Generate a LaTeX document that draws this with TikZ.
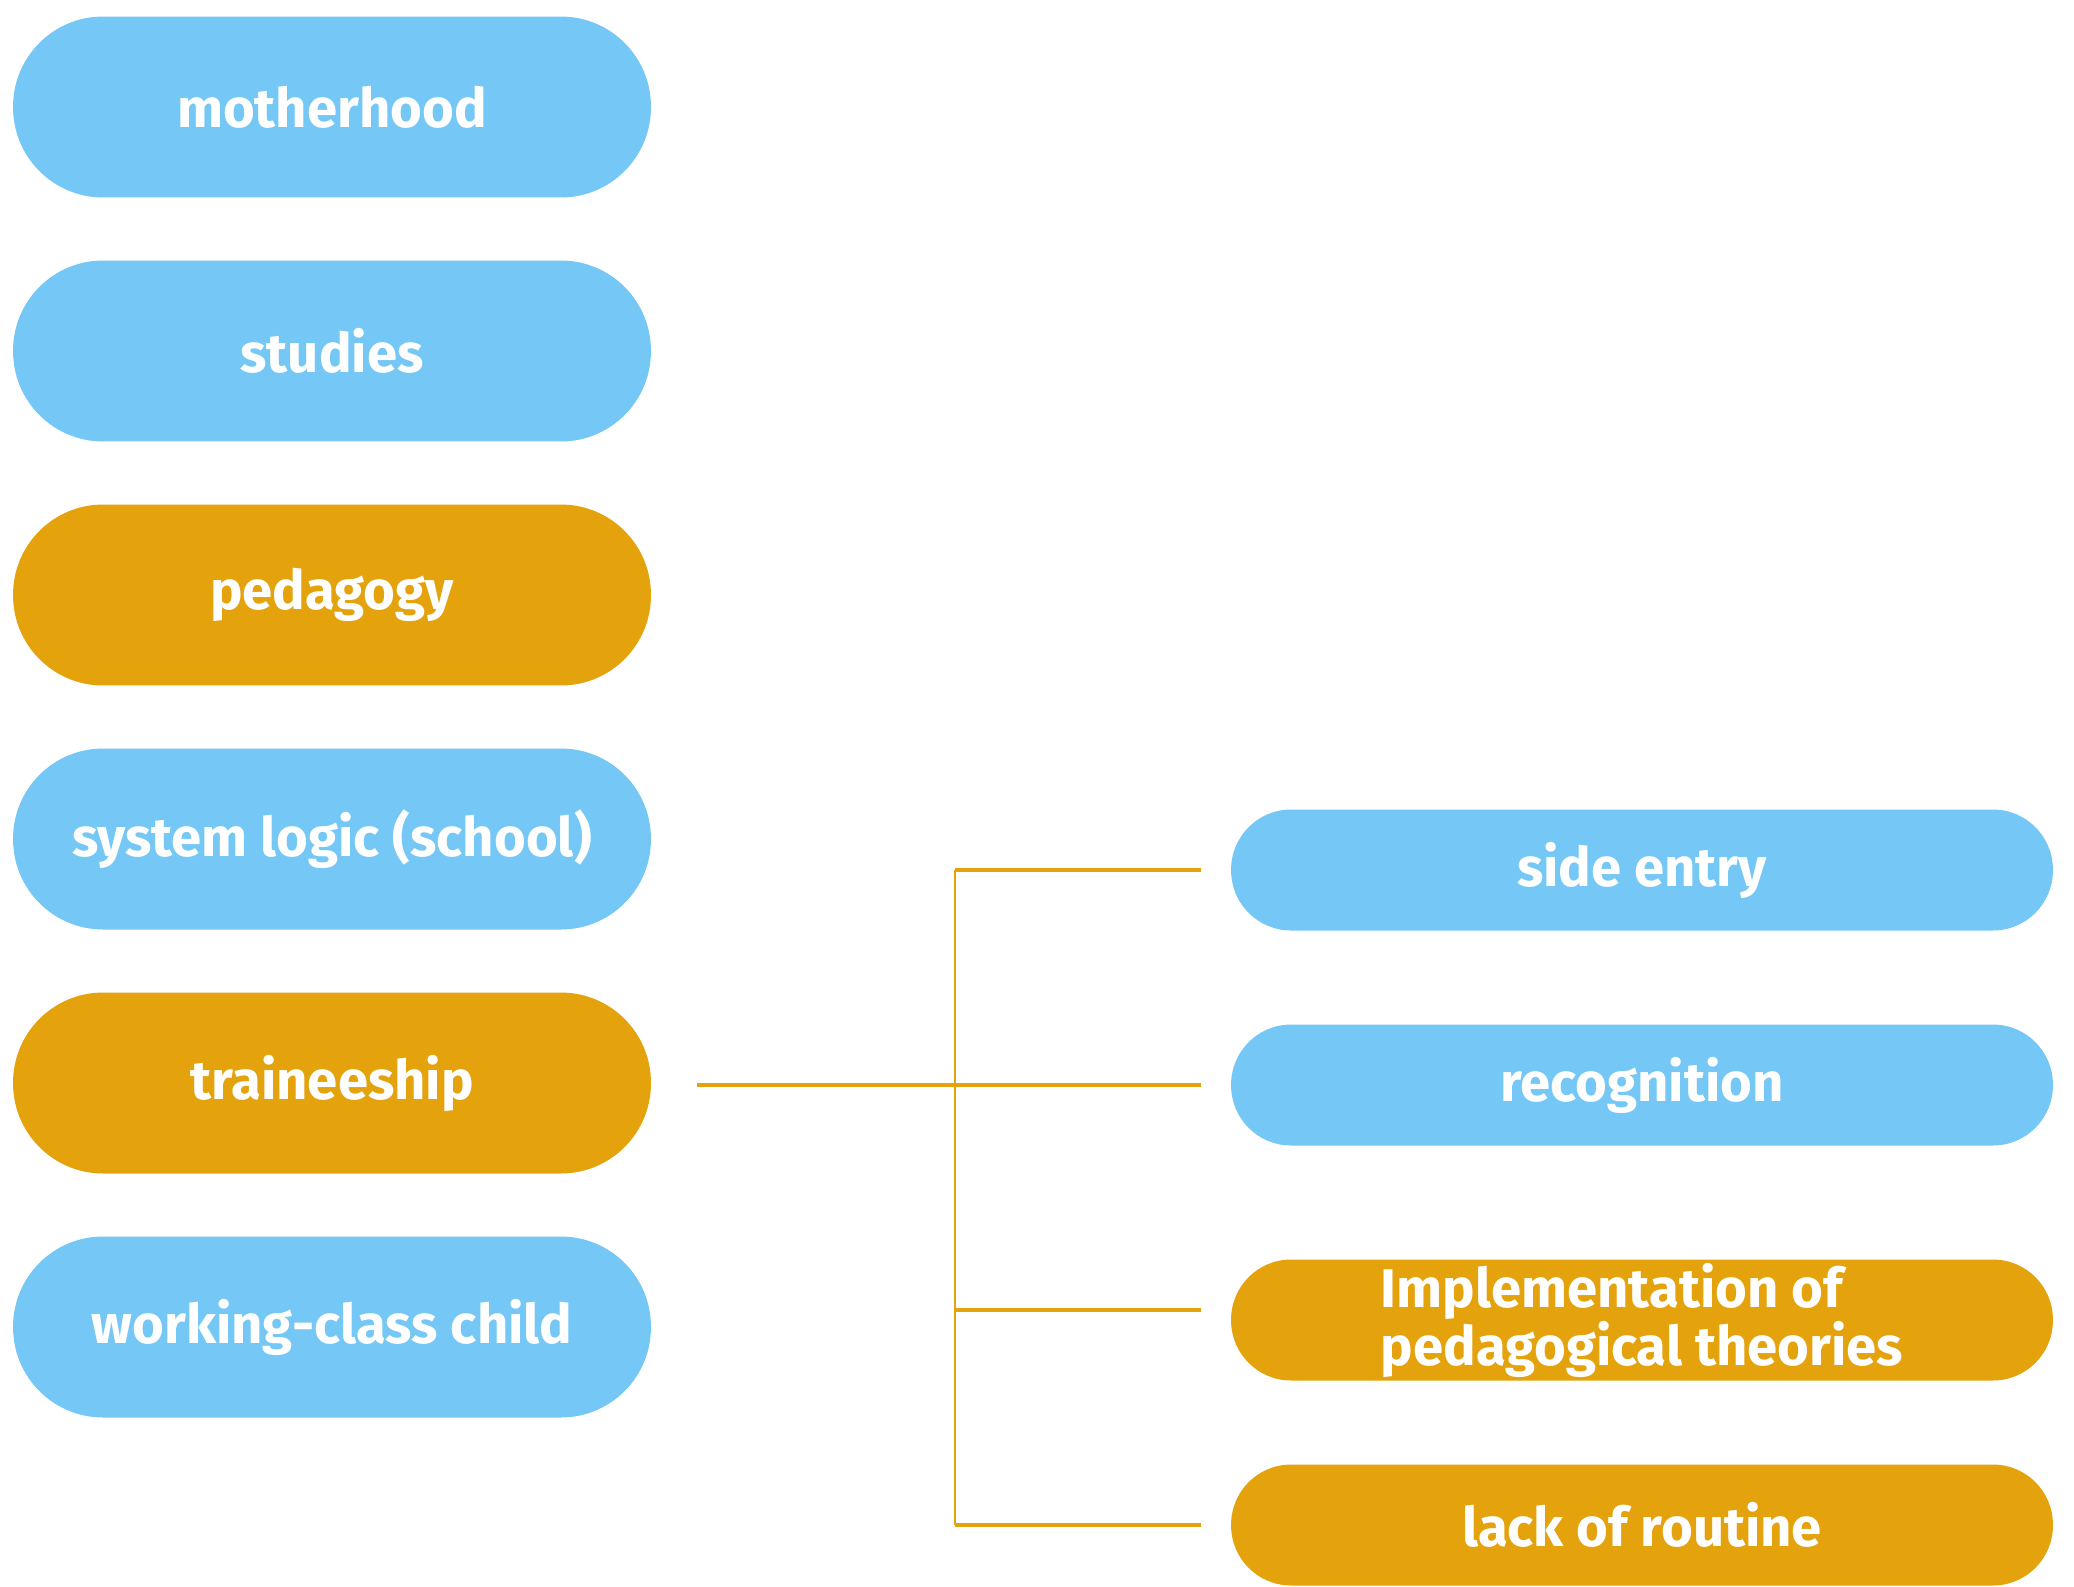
\documentclass[tikz,border=0pt]{standalone}
\usepackage{fontspec}
\setmainfont{Fira Sans}
\usepackage{tikz}
\definecolor{skyblue}{RGB}{117,199,245}
\definecolor{amber}{RGB}{228,162,12}

\begin{document}
\begin{tikzpicture}[x=0.02cm,y=-0.02cm,
  pill/.style={rectangle,inner sep=0pt,text=white,font=\fontsize{31}{31}\selectfont\bfseries},
  leftpill/.style={pill,minimum width=12.76cm,minimum height=3.62cm,rounded corners=1.8cm},
  rightpill/.style={pill,minimum width=16.44cm,minimum height=2.42cm,rounded corners=1.2cm},
  link/.style={draw=amber,line width=2.2pt},
  trunk/.style={draw=amber,line width=1.5pt}]
\useasboundingbox (0,0) rectangle (2074,1586);
\node[leftpill,fill=skyblue] (mother) at (332,107) {motherhood};
\node[leftpill,fill=skyblue] (studies) at (332,351) {studies};
\node[leftpill,fill=amber] (pedagogy) at (332,595) {pedagogy};
\node[leftpill,fill=skyblue] (syslogic) at (332,839) {system logic (school)};
\node[leftpill,fill=amber] (trainee) at (332,1083) {traineeship};
\node[leftpill,fill=skyblue] (workclass) at (332,1327) {working-class child};

\node[rightpill,fill=skyblue] (side) at (1642,870) {side entry};
\node[rightpill,fill=skyblue] (recog) at (1642,1085) {recognition};
\node[rightpill,fill=amber,align=left] (impl) at (1642,1320) {Implementation of\\pedagogical theories};
\node[rightpill,fill=amber] (lack) at (1642,1525) {lack of routine};

\coordinate (split) at (955,1085);
\draw[trunk] (split |- side.west) -- (split |- lack.west);
\draw[link,shorten <=0.92cm,shorten >=0.6cm] (trainee.east |- recog.west) -- (recog.west);
\draw[link,shorten >=0.6cm] (split |- side.west) -- (side.west);
\draw[link,shorten >=0.6cm] ([yshift=0.2cm]split |- impl.west) -- ([yshift=0.2cm]impl.west);
\draw[link,shorten >=0.6cm] (split |- lack.west) -- (lack.west);
\end{tikzpicture}
\end{document}
